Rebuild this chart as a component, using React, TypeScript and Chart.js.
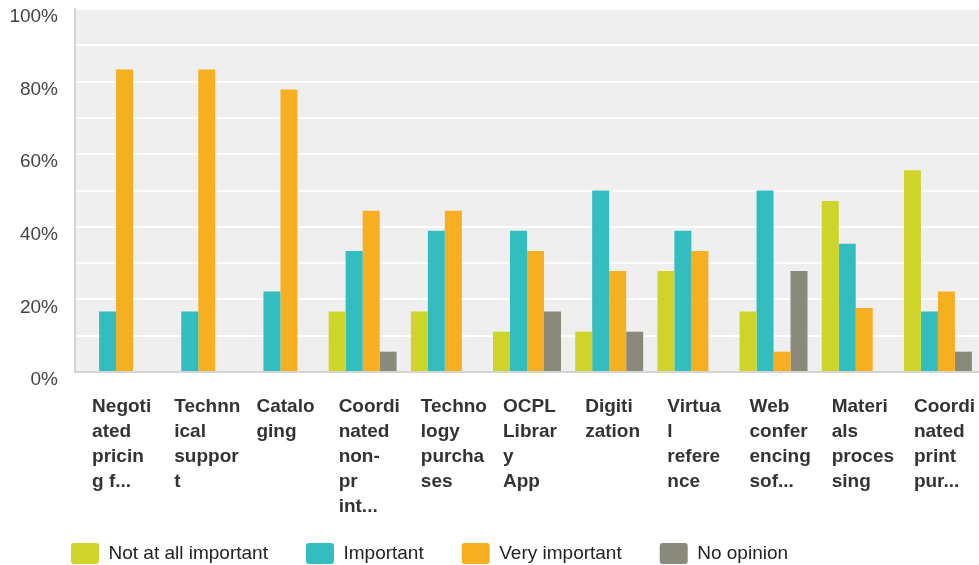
import React, { useEffect, useRef } from "react";
import { Chart, registerables } from "chart.js";

Chart.register(...registerables);

const categories: string[][] = [
  ["Negoti", "ated", "pricin", "g f..."],
  ["Technn", "ical", "suppor", "t"],
  ["Catalo", "ging"],
  ["Coordi", "nated", "non-", "pr", "int..."],
  ["Techno", "logy", "purcha", "ses"],
  ["OCPL", "Librar", "y", "App"],
  ["Digiti", "zation"],
  ["Virtua", "l", "refere", "nce"],
  ["Web", "confer", "encing", "sof..."],
  ["Materi", "als", "proces", "sing"],
  ["Coordi", "nated", "print", "pur..."],
];

const notAtAllImportant = [0, 0, 0, 16.7, 16.7, 11.1, 11.1, 27.8, 16.7, 47.1, 55.6];
const important = [16.7, 16.7, 22.2, 33.3, 38.9, 38.9, 50.0, 38.9, 50.0, 35.3, 16.7];
const veryImportant = [83.3, 83.3, 77.8, 44.4, 44.4, 33.3, 27.8, 33.3, 5.6, 17.6, 22.2];
const noOpinion = [0, 0, 0, 5.6, 0, 16.7, 11.1, 0, 27.8, 0, 5.6];

const seriesNames = ["Not at all important", "Important", "Very important", "No opinion"];
const seriesColors = ["#cfd42a", "#33bdbe", "#f6af20", "#8a8a7a"];

const FONT = "'Liberation Sans', Arial, sans-serif";

const zeroPadding = (s: any) => {
  s.paddingLeft = 0;
  s.paddingRight = 0;
  s.paddingTop = 0;
  s.paddingBottom = 0;
};

export default function App() {
  const ref = useRef<HTMLCanvasElement | null>(null);

  useEffect(() => {
    if (!ref.current) return;
    const bgPlugin = {
      id: "plotBg",
      beforeDraw(chart: any) {
        const { ctx, chartArea } = chart;
        ctx.save();
        ctx.fillStyle = "#efefef";
        ctx.fillRect(chartArea.left, chartArea.top, chartArea.right - chartArea.left, chartArea.bottom - chartArea.top);
        ctx.restore();
      },
    };
    const legendPos = {
      id: "legendPos",
      afterLayout(chart: any) {
        const lg = chart.legend;
        if (!lg) return;
        lg.left = 33;
        lg.right = chart.width;
        lg.top = 505;
        lg.bottom = chart.height;
      },
    };
    const values = [notAtAllImportant, important, veryImportant, noOpinion];
    const chart = new Chart(ref.current, {
      type: "bar",
      data: {
        labels: categories,
        datasets: seriesNames.map((name, i) => ({
          label: name,
          data: values[i],
          backgroundColor: seriesColors[i],
          borderColor: seriesColors[i],
          borderWidth: 0,
          barPercentage: 1,
          categoryPercentage: 0.827,
        })),
      },
      options: {
        animation: false,
        responsive: true,
        maintainAspectRatio: false,
        layout: { autoPadding: false, padding: { top: 9, left: 0, right: 0, bottom: 0 } },
        plugins: {
          tooltip: { enabled: false },
          legend: {
            position: "bottom",
            align: "start",
            maxHeight: 43,
            labels: {
              boxWidth: 28,
              boxHeight: 21,
              padding: 38,
              useBorderRadius: true,
              borderRadius: 3,
              color: "#222",
              font: { family: FONT, size: 19 },
            },
          },
        },
        scales: {
          x: {
            grid: { display: true, color: "rgba(0,0,0,0)", drawTicks: false },
            border: { display: true, color: "#d4d4d4", width: 2 },
            ticks: {
              autoSkip: false,
              maxRotation: 0,
              minRotation: 0,
              align: "start",
              labelOffset: -24,
              padding: 22,
              color: "#333",
              font: { family: FONT, size: 19, weight: "bold", lineHeight: "25px" },
            },
            afterFit: (s: any) => {
              s.height = 150;
              zeroPadding(s);
            },
          },
          y: {
            min: 0,
            max: 100,
            grid: { color: "#ffffff", lineWidth: 2, drawTicks: false },
            border: { display: true, color: "#d4d4d4", width: 2 },
            ticks: {
              stepSize: 10,
              padding: 17,
              labelOffset: 8,
              color: "#444",
              font: { family: FONT, size: 19 },
              callback: (v: any) => (Number(v) % 20 === 0 ? `${v}%` : ""),
            },
            afterFit: (s: any) => {
              s.width = 75;
              zeroPadding(s);
            },
          },
        },
      },
      plugins: [bgPlugin, legendPos],
    } as any);
    return () => chart.destroy();
  }, []);

  return (
    <div style={{ position: "fixed", left: 0, top: 0, width: 979, height: 565, background: "#fff" }}>
      <canvas ref={ref} />
    </div>
  );
}
